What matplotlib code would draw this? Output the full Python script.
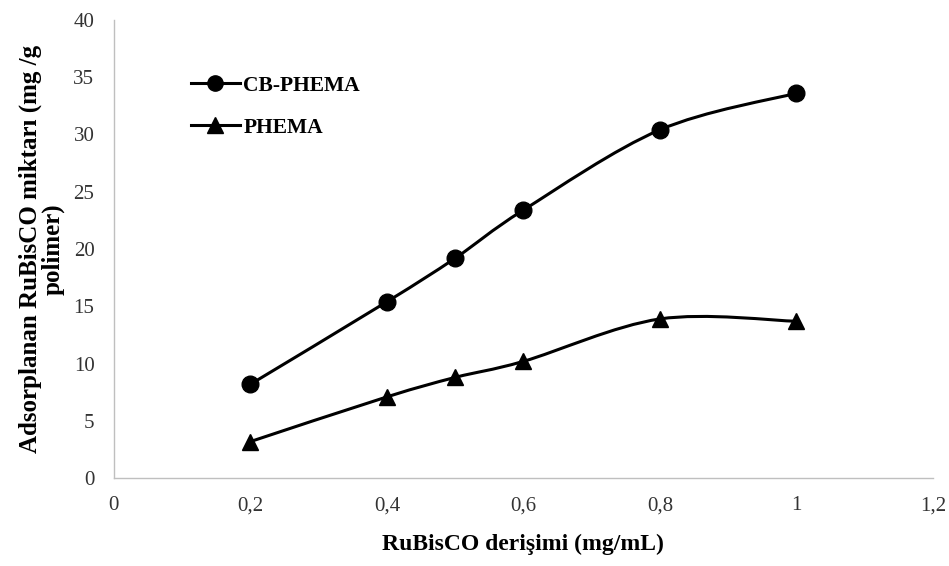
import numpy as np
import matplotlib.pyplot as plt
from matplotlib.path import Path
from matplotlib.patches import PathPatch
from matplotlib.lines import Line2D

plt.rcParams['font.family'] = ['Liberation Serif', 'DejaVu Serif']

conc = [0.2, 0.4, 0.5, 0.6, 0.8, 1.0]
cb_phema = [8.2, 15.4, 19.2, 23.4, 30.4, 33.6]
phema = [3.2, 7.1, 8.8, 10.2, 13.9, 13.7]


def smooth_path(x, y):
    # Excel-style smoothed line: cubic Bezier through points
    pts = np.column_stack([x, y])
    n = len(pts)
    verts = [pts[0]]
    codes = [Path.MOVETO]
    for i in range(n - 1):
        p0 = pts[i - 1] if i > 0 else pts[i]
        p1 = pts[i]
        p2 = pts[i + 1]
        p3 = pts[i + 2] if i + 2 < n else pts[i + 1]
        c1 = p1 + (p2 - p0) / 6
        c2 = p2 - (p3 - p1) / 6
        verts += [c1, c2, p2]
        codes += [Path.CURVE4] * 3
    return Path(verts, codes)


fig = plt.figure(figsize=(9.49, 5.66), dpi=100)
ax = fig.add_axes([0.120, 0.155, 0.863, 0.81])

for ys, mk, ms in [(cb_phema, 'o', 12), (phema, '^', 12)]:
    ax.add_patch(PathPatch(smooth_path(conc, ys), fill=False, lw=2.2, color='black'))
    ax.plot(conc, ys, ls='none', marker=mk, ms=ms, color='black')

ax.set_xlim(0, 1.2)
ax.set_ylim(0, 40)
ax.set_xticks([0, 0.2, 0.4, 0.6, 0.8, 1.0, 1.2])
ax.set_xticklabels(['0', '0,2', '0,4', '0,6', '0,8', '1', '1,2'])
ax.set_yticks(range(0, 41, 5))
ax.tick_params(length=0, labelsize=15, colors='#333333', pad=13)
ax.tick_params(axis='y', pad=14)
for s in ['top', 'right']:
    ax.spines[s].set_visible(False)
for s in ['left', 'bottom']:
    ax.spines[s].set_color('#bfbfbf')
    ax.spines[s].set_linewidth(1)

ax.set_xlabel('RuBisCO derişimi (mg/mL)', fontsize=17, fontweight='bold', labelpad=13)
ax.set_ylabel('Adsorplanan RuBisCO miktarı (mg /g\npolimer)', fontsize=18,
              fontweight='bold', labelpad=6, linespacing=1.0)

handles = [Line2D([], [], color='black', lw=2.2, marker='o', ms=11),
           Line2D([], [], color='black', lw=2.2, marker='^', ms=11)]
leg = ax.legend(handles, ['CB-PHEMA', 'PHEMA'], loc='upper left',
                bbox_to_anchor=(0.07, 0.92), frameon=False, handlelength=2.3,
                handletextpad=0.15, labelspacing=1.0, prop={'size': 15.5, 'weight': 'bold'})

fig.savefig('out.png', dpi=100)
